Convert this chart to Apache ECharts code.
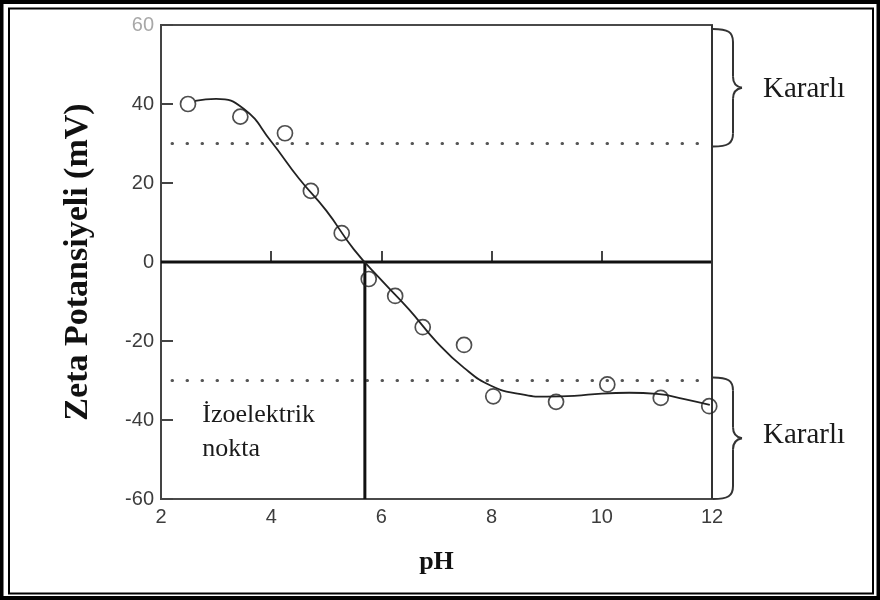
<!DOCTYPE html>
<html>
<head>
<meta charset="utf-8">
<script src="https://cdn.jsdelivr.net/npm/echarts@6/dist/echarts.min.js"></script>
<style>
  html, body { margin: 0; padding: 0; background: #fff; }
  #chart { width: 880px; height: 600px; }
</style>
</head>
<body>
<div id="chart"></div>
<script>
// Measured zeta potential (mV) against pH
const pointPH = [2.49, 3.44, 4.25, 4.72, 5.28, 5.77, 6.25, 6.75, 7.5, 8.03, 9.17, 10.1, 11.07, 11.95];
const pointMV = [40.0, 36.8, 32.6, 18.0, 7.3, -4.3, -8.6, -16.5, -21.0, -34.0, -35.4, -31.0, -34.4, -36.5];

// Fitted trend curve
const curvePH = [2.62, 3.0, 3.5, 4.0, 4.5, 5.0, 5.5, 6.0, 6.5, 7.0, 7.5, 8.0, 8.5, 9.0, 9.5, 10.0, 10.5, 11.0, 11.5, 11.96];
const curveMV = [40.8, 41.3, 38.8, 30.5, 21.2, 13.0, 3.2, -4.6, -12.0, -20.2, -26.8, -31.4, -33.4, -34.1, -33.9, -33.3, -33.1, -33.4, -34.7, -36.2];

// Reference levels
const isoelectricPH = 5.7;
const stableLevel = 30;
const dottedFromPH = 2.2;

// Axis ranges
const xMin = 2, xMax = 12, xStep = 2;
const yMin = -60, yMax = 60, yStep = 20;

// Texts
const yTitle = 'Zeta Potansiyeli (mV)';
const xTitle = 'pH';
const stableText = 'Kararlı';
const isoText = 'İzoelektrik\nnokta';

const zip = (a, b) => a.map((v, i) => [v, b[i]]);

const chart = echarts.init(document.getElementById('chart'), null, { renderer: 'canvas' });

const tickFont = { fontFamily: 'Liberation Sans, Arial, sans-serif', fontSize: 20 };

chart.setOption({
  animation: false,
  backgroundColor: '#fff',
  grid: {
    left: 161, right: 168, top: 25, bottom: 101,
    show: true, borderColor: '#4a4a4a', borderWidth: 2
  },
  xAxis: {
    type: 'value', min: xMin, max: xMax, interval: xStep,
    name: xTitle, nameLocation: 'middle', nameGap: 50,
    nameTextStyle: { fontFamily: 'Liberation Serif, Times New Roman, serif', fontWeight: 'bold', fontSize: 26, color: '#111' },
    axisLine: { lineStyle: { color: '#444', width: 2 } },
    axisTick: { inside: true, length: 11, lineStyle: { color: '#444', width: 2 } },
    axisLabel: Object.assign({ color: '#3c3c3c', margin: 8 }, tickFont),
    splitLine: { show: false }
  },
  yAxis: {
    type: 'value', min: yMin, max: yMax, interval: yStep,
    name: yTitle, nameLocation: 'middle', nameGap: 66, nameRotate: 90,
    nameTextStyle: { fontFamily: 'Liberation Serif, Times New Roman, serif', fontWeight: 'bold', fontSize: 34, color: '#111' },
    axisLine: { lineStyle: { color: '#444', width: 2 } },
    axisTick: { inside: true, length: 12, lineStyle: { color: '#444', width: 2 } },
    axisLabel: Object.assign({
      margin: 7,
      color: (v) => (Number(v) === yMax ? '#a8a8a8' : '#3c3c3c')
    }, tickFont),
    splitLine: { show: false }
  },
  series: [
    {
      // zero line
      type: 'line', data: [[xMin, 0], [xMax, 0]], symbol: 'none', z: 3,
      lineStyle: { color: '#111', width: 3 }, silent: true
    },
    {
      // isoelectric point marker
      type: 'line', data: [[isoelectricPH, 0], [isoelectricPH, yMin]], symbol: 'none', z: 3,
      lineStyle: { color: '#111', width: 3 }, silent: true
    },
    {
      type: 'line', data: [[dottedFromPH, stableLevel], [xMax, stableLevel]], symbol: 'none', z: 2,
      lineStyle: { color: '#555', width: 3, type: [0.5, 14.5], cap: 'round' }, silent: true
    },
    {
      type: 'line', data: [[dottedFromPH, -stableLevel], [xMax, -stableLevel]], symbol: 'none', z: 2,
      lineStyle: { color: '#555', width: 3, type: [0.5, 14.5], cap: 'round' }, silent: true
    },
    {
      // trend curve
      type: 'line', data: zip(curvePH, curveMV), symbol: 'none', smooth: 0.5, z: 4,
      lineStyle: { color: '#222', width: 1.8 }
    },
    {
      type: 'scatter', data: zip(pointPH, pointMV), symbol: 'circle', symbolSize: 15, z: 5,
      itemStyle: { color: 'rgba(255,255,255,0)', borderColor: '#222', borderWidth: 1.7 }
    },
    {
      // right-hand closing line of the plot box
      type: 'line', data: [[xMax, yMin], [xMax, yMax]], symbol: 'none', z: 3,
      lineStyle: { color: '#333', width: 2 }, silent: true
    }
  ]
});

// Curly brace from yTop to yBot, opening at xL and pointing right
function brace(xL, yTop, yBot) {
  const mid = (yTop + yBot) / 2;
  const xc = xL + 20, tip = xL + 29;
  const style = { fill: null, stroke: '#333', lineWidth: 2 };
  const bez = (x1, y1, c1x, c1y, c2x, c2y, x2, y2) => ({
    type: 'bezierCurve', silent: true, style,
    shape: { x1, y1, cpx1: c1x, cpy1: c1y, cpx2: c2x, cpy2: c2y, x2, y2 }
  });
  const seg = (x1, y1, x2, y2) => ({ type: 'line', silent: true, style, shape: { x1, y1, x2, y2 } });
  return [
    bez(xL, yTop, xL + 15, yTop, xc, yTop + 3, xc, yTop + 13),
    seg(xc, yTop + 13, xc, mid - 11),
    bez(xc, mid - 11, xc, mid - 4, xc + 3, mid - 1, tip, mid),
    bez(tip, mid, xc + 3, mid + 1, xc, mid + 4, xc, mid + 11),
    seg(xc, mid + 11, xc, yBot - 13),
    bez(xc, yBot - 13, xc, yBot - 3, xL + 15, yBot, xL, yBot)
  ];
}

function px(x, y) { return chart.convertToPixel({ gridIndex: 0 }, [x, y]); }

const topA = px(xMax, yMax), topB = px(xMax, stableLevel);
const botA = px(xMax, -stableLevel), botB = px(xMax, yMin);
const isoPos = px(2.75, -43);

const serif = 'Liberation Serif, Times New Roman, serif';

chart.setOption({
  graphic: [
    // double page frame
    { type: 'rect', silent: true, shape: { x: 1.5, y: 2, width: 877, height: 596 }, style: { fill: null, stroke: '#000', lineWidth: 4 } },
    { type: 'rect', silent: true, shape: { x: 9, y: 8.5, width: 864, height: 585 }, style: { fill: null, stroke: '#000', lineWidth: 2 } }
  ]
    .concat(brace(topA[0] + 1, topA[1] + 4, topB[1] + 3))
    .concat(brace(botA[0] + 1, botA[1] - 3, botB[1]))
    .concat([
      {
        type: 'text', silent: true, x: topA[0] + 51, y: (topA[1] + topB[1]) / 2 + 5,
        style: { text: stableText, font: '29px ' + serif, fill: '#1a1a1a', verticalAlign: 'middle', align: 'left' }
      },
      {
        type: 'text', silent: true, x: botA[0] + 51, y: (botA[1] + botB[1]) / 2 - 4,
        style: { text: stableText, font: '29px ' + serif, fill: '#1a1a1a', verticalAlign: 'middle', align: 'left' }
      },
      {
        type: 'text', silent: true, x: isoPos[0], y: isoPos[1],
        style: { text: isoText, font: '26px ' + serif, fill: '#1a1a1a', lineHeight: 34, verticalAlign: 'middle', align: 'left' }
      }
    ])
});
</script>
</body>
</html>
